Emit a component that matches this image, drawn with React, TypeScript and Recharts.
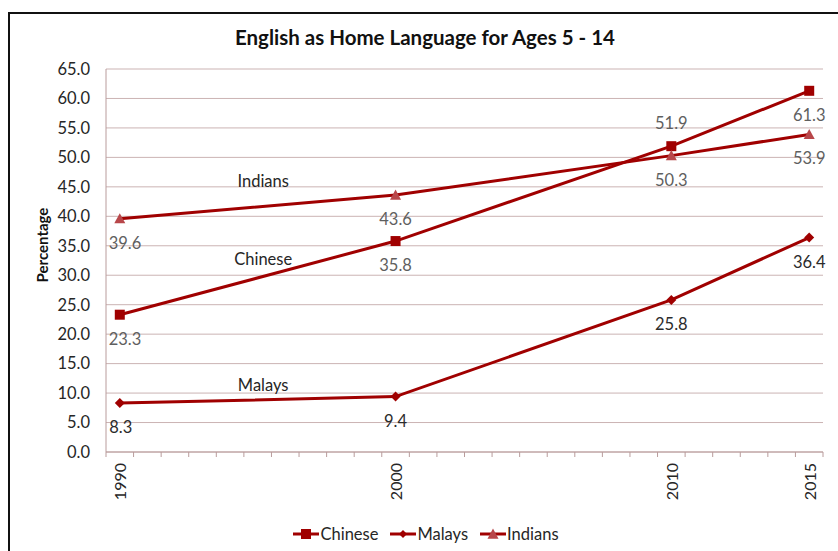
import React from 'react';
import { LineChart, Line, XAxis, YAxis, CartesianGrid, LabelList, ReferenceDot } from 'recharts';

const years = [1990, 2000, 2010, 2015];
const chinese = [23.3, 35.8, 51.9, 61.3];
const malays = [8.3, 9.4, 25.8, 36.4];
const indians = [39.6, 43.6, 50.3, 53.9];
const yTicks = [0, 5, 10, 15, 20, 25, 30, 35, 40, 45, 50, 55, 60, 65];
const seriesNames = ['Chinese', 'Malays', 'Indians'];
// in-plot series captions (data coordinates)
const captions = [
  { name: 'Indians', x: 1995.2, y: 46.0 },
  { name: 'Chinese', x: 1995.2, y: 32.8 },
  { name: 'Malays', x: 1995.2, y: 11.4 },
];

const data = years.map((year, i) => ({
  year,
  Chinese: chinese[i],
  Malays: malays[i],
  Indians: indians[i],
}));

// year boundaries for the small tick marks
const minorTicks = Array.from({ length: years[years.length - 1] - years[0] + 2 }, (_, i) => years[0] - 0.5 + i);

const FONT = 'Lato, "Open Sans", sans-serif';
const LINE = '#a00000';
const PLOT_LEFT = 106;

const markerFill: Record<string, string> = {
  Chinese: '#a00000',
  Malays: '#a00000',
  Indians: '#b8474a',
};

const Marker = ({ cx, cy, name, size = 1 }: any) => {
  if (cx == null || cy == null) return null;
  const fill = markerFill[name];
  if (name === 'Chinese') {
    const s = 5 * size;
    return <rect x={cx - s} y={cy - s} width={s * 2} height={s * 2} fill={fill} />;
  }
  if (name === 'Malays') {
    const s = 5 * size;
    return <path d={`M${cx},${cy - s}L${cx + s},${cy}L${cx},${cy + s}L${cx - s},${cy}Z`} fill={fill} />;
  }
  const s = 5.5 * size;
  return <path d={`M${cx},${cy - s}L${cx + s},${cy + s * 0.85}L${cx - s},${cy + s * 0.85}Z`} fill={fill} />;
};

const makeLabel = (name: string) => (props: any) => {
  const { x, y, value, index } = props;
  const txt = Number(value).toFixed(1);
  const above = name === 'Chinese' && years[index] === 2010;
  const w = txt.length * 8.5;
  const cx = Math.max(x, PLOT_LEFT + 2 + w / 2);
  return (
    <text
      x={cx}
      y={above ? y - 23 : y + 24}
      textAnchor="middle"
      dominantBaseline="central"
      fontSize={16.5}
      fontFamily={FONT}
      fill={name === 'Malays' ? '#2b2b2b' : '#5f5f5f'}
    >
      {txt}
    </text>
  );
};

const YearTick = ({ x, y, payload }: any) => (
  <text
    transform={`translate(${x},${y}) rotate(-90)`}
    textAnchor="end"
    dominantBaseline="central"
    fontSize={16}
    fontFamily={FONT}
    fill="#262626"
  >
    {payload.value}
  </text>
);

const LegendIcon = ({ name }: { name: string }) => (
  <svg width={26} height={14} style={{ display: 'block' }}>
    <line x1={0} y1={7} x2={26} y2={7} stroke={LINE} strokeWidth={3} />
    <Marker cx={13} cy={7} name={name} size={name === 'Malays' ? 0.8 : 1} />
  </svg>
);

export default function App() {
  return (
    <div style={{ position: 'absolute', left: 0, top: 0, width: 838, height: 551, overflow: 'hidden', background: '#fff', fontFamily: FONT }}>
      <div style={{ position: 'absolute', left: 8, top: 12, width: 850, height: 560, border: '2px solid #111', boxSizing: 'border-box' }} />
      <div style={{ position: 'absolute', left: 0, top: 25, width: 850, textAlign: 'center', fontSize: 20.5, fontWeight: 700, color: '#111' }}>
        English as Home Language for Ages 5 - 14
      </div>
      <div
        style={{
          position: 'absolute',
          left: 42,
          top: 245,
          transform: 'translate(-50%, -50%) rotate(-90deg)',
          fontSize: 15,
          fontWeight: 700,
          color: '#111',
          whiteSpace: 'nowrap',
        }}
      >
        Percentage
      </div>
      <div style={{ position: 'absolute', left: 0, top: 0 }}>
        <LineChart width={838} height={551} data={data} margin={{ top: 69, right: 15, bottom: 48, left: 56 }}>
          <CartesianGrid horizontal vertical={false} stroke="#cbb3b3" xAxisId="year" />
          <XAxis
            xAxisId="minor"
            dataKey="year"
            type="number"
            domain={[minorTicks[0], minorTicks[minorTicks.length - 1]]}
            ticks={minorTicks}
            interval={0}
            height={6}
            tickSize={5}
            stroke="#b99c9c"
            tick={() => <g />}
          />
          <XAxis
            xAxisId="year"
            dataKey="year"
            type="number"
            domain={[minorTicks[0], minorTicks[minorTicks.length - 1]]}
            ticks={years}
            interval={0}
            height={45}
            axisLine={false}
            tickLine={false}
            tickSize={3}
            tickMargin={2}
            tick={<YearTick />}
          />
          <YAxis
            type="number"
            domain={[0, 65]}
            ticks={yTicks}
            interval={0}
            width={50}
            stroke="#b99c9c"
            tickLine={false}
            tickSize={8}
            tickMargin={8}
            tickFormatter={(v: number) => v.toFixed(1)}
            tick={{ fontSize: 16.5, fill: '#262626', fontFamily: FONT }}
          />
          {seriesNames.map((name) => (
            <Line
              key={name}
              xAxisId="year"
              dataKey={name}
              stroke={LINE}
              strokeWidth={3}
              isAnimationActive={false}
              dot={(p: any) => <Marker key={`${name}-${p.index}`} cx={p.cx} cy={p.cy} name={name} />}
              activeDot={false}
            >
              <LabelList dataKey={name} content={makeLabel(name)} />
            </Line>
          ))}
          {captions.map((c) => (
            <ReferenceDot
              key={c.name}
              xAxisId="year"
              x={c.x}
              y={c.y}
              r={0}
              stroke="none"
              label={{ value: c.name, position: 'center', fontSize: 16.5, fill: '#262626', fontFamily: FONT }}
            />
          ))}
        </LineChart>
      </div>
      <div
        style={{
          position: 'absolute',
          left: 0,
          top: 524,
          width: 852,
          display: 'flex',
          justifyContent: 'center',
          alignItems: 'center',
          gap: 12,
          fontSize: 16.5,
          color: '#262626',
        }}
      >
        {seriesNames.map((name) => (
          <div key={name} style={{ display: 'flex', alignItems: 'center', gap: 1 }}>
            <LegendIcon name={name} />
            <span>{name}</span>
          </div>
        ))}
      </div>
    </div>
  );
}
